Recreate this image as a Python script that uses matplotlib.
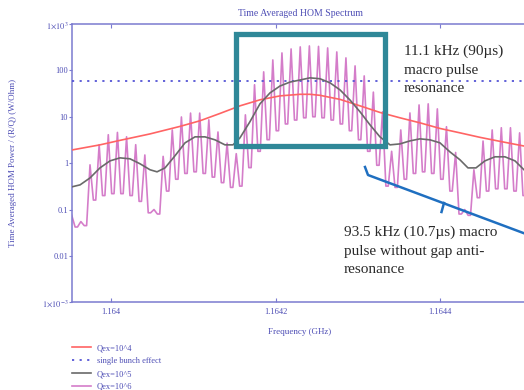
import matplotlib
matplotlib.use('Agg')
import matplotlib.pyplot as plt
from matplotlib.patches import Rectangle
from matplotlib.lines import Line2D

plt.rcParams['font.family'] = ['Liberation Serif', 'DejaVu Serif']
plt.rcParams['mathtext.fontset'] = 'stix'

# frequencies are kHz offsets from 1.164 GHz
F0_GHZ = 1.164

# Qex=10^4 (broad resonance)
q4_khz = [-47.0, -13.4, 10.9, 47.4, 83.8, 108.1, 132.4, 156.6, 180.9, 205.2, 229.5, 241.6,
          253.8, 278.1, 302.4, 326.6, 350.9, 375.2, 399.5, 423.8, 448.1, 472.4, 506.4]
q4_val = [1.93, 2.48, 3.1, 4.27, 6.2, 8.2, 11.8, 17.2, 23.2, 28.2, 30.5, 30.5,
          29.0, 23.7, 17.2, 12.4, 9.5, 7.4, 5.6, 4.5, 3.6, 2.95, 2.25]

# Qex=10^5
q5_khz = [-47.0, -37.6, -25.5, -13.4, -1.2, 10.9, 23.1, 35.2, 47.4, 55.9, 65.6, 77.7,
          89.9, 102.0, 114.1, 126.3, 138.4, 148.1, 156.6, 168.7, 180.9, 193.0, 205.2,
          217.4, 229.5, 241.6, 253.8, 265.9, 278.1, 290.2, 302.4, 314.5, 326.6, 338.8,
          350.9, 363.1, 375.2, 387.4, 399.5, 411.6, 423.8, 433.5, 443.2, 454.1, 466.3,
          478.4, 490.6, 501.5, 506.4]
q5_val = [0.31, 0.34, 0.48, 0.79, 1.12, 1.30, 1.24, 0.97, 0.72, 0.65, 0.79, 1.44,
          2.74, 3.69, 3.69, 3.18, 2.48, 2.48, 3.51, 7.8, 19.0, 32.6, 46.0,
          56.0, 62.0, 69.0, 66.0, 54.0, 38.0, 23.0, 12.8, 6.7, 3.69, 2.48,
          2.6, 3.02, 3.34, 3.18, 2.74, 1.75, 1.18, 0.79, 0.79, 1.12, 1.37,
          1.37, 1.12, 0.72, 0.62]

# Qex=10^6: resonance peaks of the 11.1 kHz comb and the troughs between them
q6_peak_khz = [-47.7, -36.6, -25.5, -14.4, -3.3, 7.8, 18.9, 30.0, 41.1, 52.2, 63.3,
               74.4, 85.5, 96.6, 107.7, 118.8, 129.9, 141.0, 152.1, 163.2, 174.3,
               185.4, 196.5, 207.6, 218.7, 229.8, 240.9, 252.0, 263.1, 274.2, 285.3,
               296.4, 307.5, 318.6, 329.7, 340.8, 351.9, 363.0, 374.1, 385.2, 396.3,
               407.4, 418.5, 429.6, 440.7, 451.8, 462.9, 474.0, 485.1, 496.2, 507.3]
q6_peak_val = [0.075, 0.055, 0.92, 2.5, 4.1, 4.6, 3.7, 2.5, 1.5, 0.1, 1.4,
               5.2, 9.9, 12, 12, 8.6, 4.7, 2.7, 1.6, 11, 49,
               93, 168, 238, 290, 321, 337, 329, 305, 250, 186,
               125, 76, 34, 12.8, 1.8, 5.2, 12.1, 18, 19, 14.8,
               6.1, 1.7, 0.1, 0.72, 3.0, 5.2, 5.8, 5.8, 4.5, 2.5]
q6_trough_val = [0.042, 0.045, 0.16, 0.2, 0.22, 0.22, 0.2, 0.15, 0.085, 0.08, 0.25,
                 0.45, 0.6, 0.65, 0.6, 0.5, 0.38, 0.3, 0.32, 0.8, 1.8,
                 3.2, 5, 7, 8.5, 9.5, 10, 9.5, 8.5, 7, 5,
                 3.2, 1.8, 0.9, 0.32, 0.3, 0.45, 0.6, 0.65, 0.6, 0.45,
                 0.25, 0.08, 0.075, 0.18, 0.25, 0.28, 0.28, 0.25, 0.2]

single_bunch = 59.0

legend_labels = ['Qex=10^4', 'single bunch effect', 'Qex=10^5', 'Qex=10^6']
xtick_ghz = [1.164, 1.1642, 1.1644]
xtick_labels = ['1.164', '1.1642', '1.1644']
ytick_vals = [1e-3, 1e-2, 1e-1, 1, 10, 100, 1e3]
ytick_labels = [r'$1{\times}10^{-3}$', '0.01', '0.1', '1', '10', '100', r'$1{\times}10^{3}$']

AXBLUE = '#7b7bd0'
TXTBLUE = '#4d4db5'


def ghz(khz_list):
    return [F0_GHZ + k * 1e-6 for k in khz_list]


# build the Qex=10^6 trace: peak, trough, peak, ...
q6_x, q6_y = [], []
for i, pk in enumerate(q6_peak_khz):
    q6_x.append(pk)
    q6_y.append(q6_peak_val[i])
    if i < len(q6_trough_val):
        nxt = q6_peak_khz[i + 1]
        mid = (pk + nxt) / 2
        half = 0.13 * (nxt - pk)
        q6_x += [mid - half, mid + half]
        q6_y += [q6_trough_val[i], q6_trough_val[i]]

W, H = 524, 390
fig = plt.figure(figsize=(W / 100, H / 100), dpi=100)
ax = fig.add_axes([72.3 / W, 1 - 302.3 / H, (528 - 72.3) / W, (302.3 - 24) / H])

l6, = ax.plot(ghz(q6_x), q6_y, color='#d06fc4', lw=1.2, alpha=0.9, zorder=2)
l4, = ax.plot(ghz(q4_khz), q4_val, color='#ff6464', lw=1.2, zorder=3)
ld = ax.axhline(single_bunch, color='#5555d5', lw=1.3, ls=(0, (1.2, 3)), zorder=3)
l5, = ax.plot(ghz(q5_khz), q5_val, color='#6a6a6a', lw=1.2, zorder=4)

ax.set_yscale('log')
ax.set_ylim(1e-3, 1e3)
ax.set_xlim(F0_GHZ - 47.0e-6, F0_GHZ + 506.4e-6)
ax.set_xticks(xtick_ghz)
ax.set_xticklabels(xtick_labels)
ax.set_yticks(ytick_vals)
ax.set_yticklabels(ytick_labels)
ax.yaxis.set_minor_locator(matplotlib.ticker.NullLocator())
ax.tick_params(axis='x', direction='in', top=True, length=3, width=0.8,
               color=AXBLUE, labelcolor=TXTBLUE, labelsize=6, pad=4)
ax.tick_params(axis='y', direction='out', length=2, width=0.8,
               color=AXBLUE, labelcolor=TXTBLUE, labelsize=6, pad=1)
for s in ['left', 'top', 'bottom']:
    ax.spines[s].set_color(AXBLUE)
    ax.spines[s].set_linewidth(1.1)
ax.spines['right'].set_visible(False)

fig.text(300 / W, 1 - 13 / H, 'Time Averaged HOM Spectrum', color=TXTBLUE,
         fontsize=7, ha='center', va='center')
fig.text(300 / W, 1 - 332 / H, 'Frequency (GHz)', color=TXTBLUE,
         fontsize=6.5, ha='center', va='center')
fig.text(13.5 / W, 1 - 163 / H, 'Time Averaged HOM Power / (R/Q) (W/Ohm)', color=TXTBLUE,
         fontsize=6.5, ha='center', va='center', rotation=90)

fig.legend([l4, ld, l5, l6], legend_labels, loc='upper left',
           bbox_to_anchor=(72 / W, 1 - 344 / H), frameon=False, fontsize=6,
           labelcolor=TXTBLUE, handlelength=2.3, handletextpad=0.7,
           labelspacing=0.6, borderpad=0, borderaxespad=0)

# highlight box and bracket
fig.add_artist(Rectangle((235.5 / W, 1 - 145.5 / H), (384.5 - 235.5) / W, (145.5 - 34) / H,
                         transform=fig.transFigure, fill=False, ec='#2f8898', lw=3.8, zorder=10))
fig.add_artist(Line2D([365 / W, 368 / W, 526 / W], [1 - 167 / H, 1 - 175 / H, 1 - 234 / H],
                      transform=fig.transFigure, color='#1f6fc0', lw=1.8, zorder=10))
fig.add_artist(Line2D([444 / W, 441.5 / W], [1 - 203 / H, 1 - 212 / H],
                      transform=fig.transFigure, color='#1f6fc0', lw=1.8, zorder=10))

fig.text(404 / W, 1 - 45 / H, '11.1 kHz (90µs)\nmacro pulse\nresonance', color='#2a2a2a',
         fontsize=11, ha='left', va='top', linespacing=1.55)
fig.text(344 / W, 1 - 226 / H, '93.5 kHz (10.7µs) macro\npulse without gap anti-\nresonance',
         color='#2a2a2a', fontsize=11, ha='left', va='top', linespacing=1.55)

fig.savefig('out.png', dpi=100)
